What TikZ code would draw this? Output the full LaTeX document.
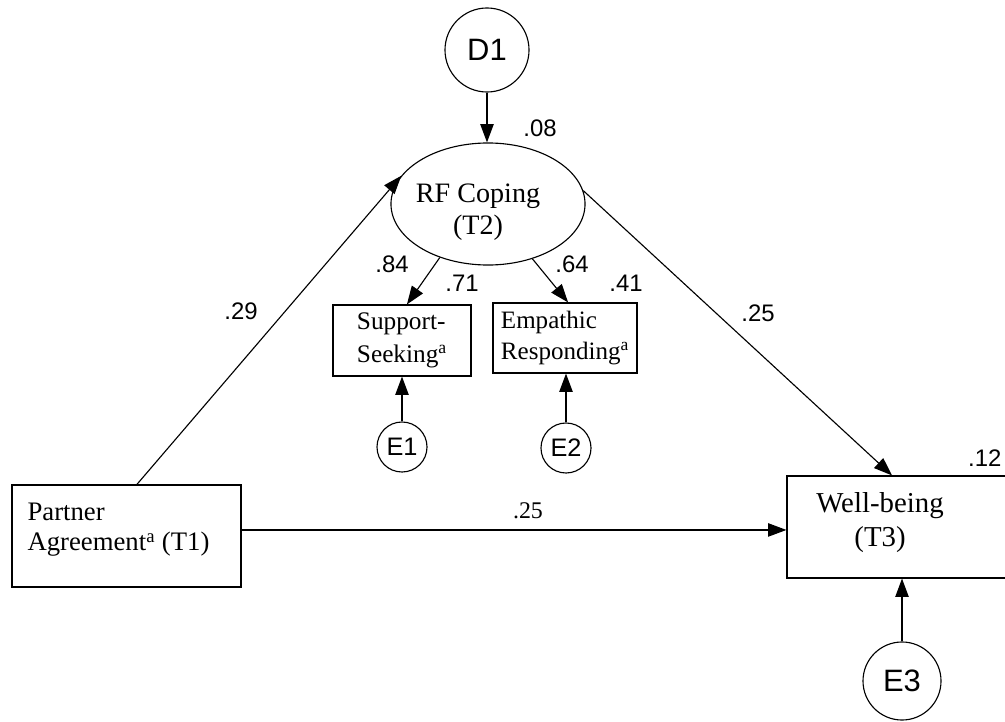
\documentclass[tikz,border=0pt]{standalone}
\usepackage{fontspec}
\setmainfont{Liberation Serif}
\newfontfamily\arialfont{Liberation Sans}
\usetikzlibrary{arrows.meta,shapes.geometric}

\begin{document}
\begin{tikzpicture}[x=0.025cm,y=-0.025cm,line width=0.8pt,
  obs/.style={draw,rectangle,inner sep=0pt},
  lat/.style={draw,ellipse,inner sep=0pt,minimum width=4.85cm,minimum height=3.05cm},
  err/.style={draw,circle,inner sep=0pt,font=\arialfont\fontsize{18}{20}\selectfont},
  coef/.style={inner sep=0pt,font=\arialfont\fontsize{17}{19}\selectfont},
  txt/.style={inner sep=0pt,align=#1,font=\fontsize{19}{22}\selectfont},
  effect/.style={-{Triangle[length=13pt,width=9.5pt]}}]
\useasboundingbox (0,0) rectangle (1005,722);
\clip (0,0) rectangle (1005,722);

% latent variable and its disturbance
\node[lat] (rf) at (488,204) {};
\node[txt=center,anchor=north,font=\fontsize{20}{23}\selectfont] (rft) at (478,183) {RF Coping\\(T2)};
\node[err,minimum size=2.1cm,font=\arialfont\fontsize{22}{24}\selectfont] (d1) at (487,50) {D1};

% observed variables
\node[obs,minimum width=5.725cm,minimum height=2.55cm] (pa) at (126.5,536) {};
\node[txt=left,anchor=north west] (pat) at (27,502) {Partner\\Agreement\textsuperscript{a} (T1)};
\node[obs,minimum width=3.45cm,minimum height=1.775cm,txt=left,font=\fontsize{18}{23}\selectfont] (ss) at (402,340.5) {Support-\\Seeking\textsuperscript{a}};
\node[obs,minimum width=3.6cm,minimum height=1.75cm,txt=left,font=\fontsize{17.8}{22}\selectfont] (er) at (565,338) {Empathic\\Responding\textsuperscript{a}};
\node[obs,minimum width=5.575cm,minimum height=2.55cm] (wb) at (898.5,527) {};
\node[txt=center,anchor=north,font=\fontsize{20.5}{24}\selectfont] (wbt) at (880,492) {Well-being\\(T3)};

% residuals
\node[err,minimum size=1.25cm] (e1) at (402,447) {E1};
\node[err,minimum size=1.25cm] (e2) at (566,448) {E2};
\node[err,minimum size=1.95cm,font=\arialfont\fontsize{22}{24}\selectfont] (e3) at (902,681) {E3};

% coefficients
\node[coef] (c08) at (540,128) {.08};
\node[coef] (c84) at (392,264) {.84};
\node[coef] (c64) at (572,264) {.64};
\node[coef] (c71) at (462,283) {.71};
\node[coef] (c41) at (626,283) {.41};
\node[coef] (c29) at (241,311) {.29};
\node[coef] (c25a) at (758,313) {.25};
\node[coef,font=\fontsize{17}{19}\selectfont] (c25b) at (528,511) {.25};
\node[coef,anchor=east] (c12) at (1002,458) {.12};

% paths
\draw[effect] (d1) -- (d1 |- rf.north);
\draw[effect] ([xshift=7.4pt]pa.north) -- (rf.162);
\draw[effect] (rf.8) -- ([xshift=-4.6pt]wb.north);
\draw[effect] ([yshift=4.3pt]pa.east) -- ([yshift=4.3pt]pa.east -| wb.west);
\draw[effect] (rf.228) -- ([xshift=3.5pt]ss.north);
\draw[effect] (rf.309) -- ([xshift=2.2pt]er.north);
\draw[effect] (e1) -- (e1 |- ss.south);
\draw[effect] (e2) -- (e2 |- er.south);
\draw[effect] (e3) -- (e3 |- wb.south);
\end{tikzpicture}
\end{document}
